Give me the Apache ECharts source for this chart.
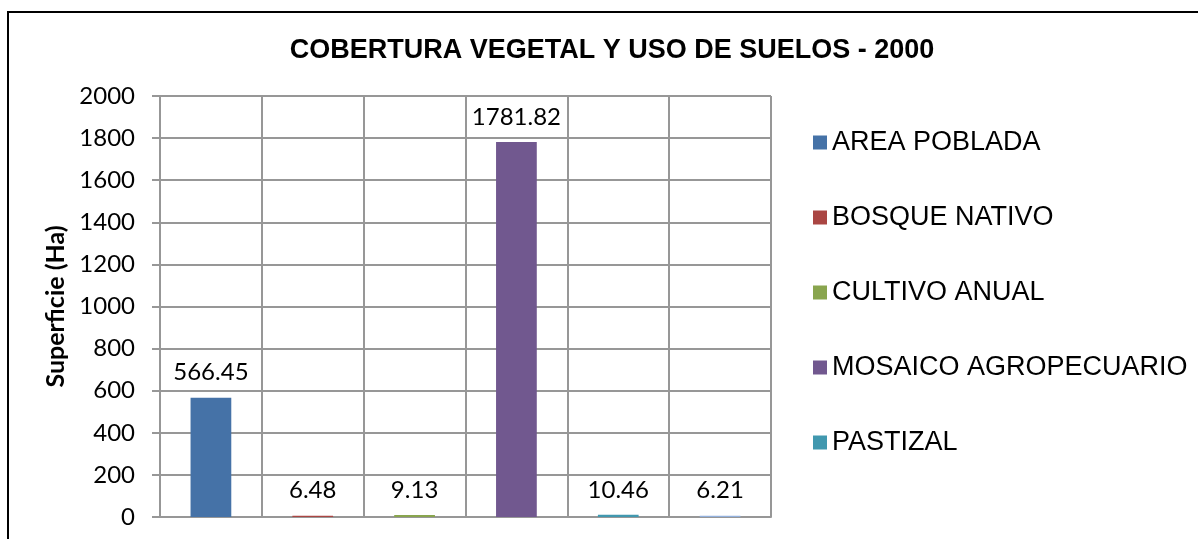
<!DOCTYPE html>
<html>
<head>
<meta charset="utf-8">
<script src="https://cdn.jsdelivr.net/npm/echarts@6/dist/echarts.min.js"></script>
<style>
  html, body { margin: 0; padding: 0; background: #fff; }
  #chart { width: 1198px; height: 539px; }
</style>
</head>
<body>
<div id="chart"></div>
<script>
// one bar per land-cover class; the last class has no legend entry in the source
const categories = [
  "AREA POBLADA",
  "BOSQUE NATIVO",
  "CULTIVO ANUAL",
  "MOSAICO AGROPECUARIO",
  "PASTIZAL",
  "OTRO",
]
const values = [566.45, 6.48, 9.13, 1781.82, 10.46, 6.21]
const legendNames = categories.slice(0, 5)
const colors = ["#4572A7", "#AA4643", "#89A54E", "#71588F", "#4198AF", "#93B1DD"]
const yTicks = { min: 0, max: 2000, interval: 200 }

const chart = echarts.init(document.getElementById("chart"), null, { renderer: "canvas" })
const gridColor = "#979797"
const numFont = "Lato, 'Open Sans', sans-serif"

chart.setOption({
  animation: false,
  title: {
    text: "COBERTURA VEGETAL Y USO DE SUELOS - 2000",
    left: 607,
    textAlign: "center",
    top: 32,
    textStyle: {
      fontFamily: "'Liberation Sans', Arial, sans-serif",
      fontWeight: "bold",
      fontSize: 27,
      color: "#000",
    },
  },
  graphic: [
    {
      type: "rect",
      shape: { x: 8, y: 12, width: 1300, height: 700 },
      style: { fill: "none", stroke: "#000", lineWidth: 2 },
      silent: true,
    },
  ],
  legend: {
    orient: "vertical",
    left: 813,
    top: 129,
    padding: 0,
    itemWidth: 14,
    itemHeight: 14,
    itemGap: 48,
    icon: "rect",
    data: legendNames,
    textStyle: {
      fontFamily: "'Liberation Sans', Arial, sans-serif",
      fontSize: 27,
      lineHeight: 27,
      color: "#000",
    },
  },
  grid: { left: 160, right: 427, top: 96, bottom: 22, containLabel: false },
  xAxis: {
    type: "category",
    data: categories,
    axisLine: { show: true, lineStyle: { color: gridColor, width: 2 } },
    axisTick: { show: false, interval: 0 },
    axisLabel: { show: false, interval: 0 },
    splitLine: { show: true, interval: 0, lineStyle: { color: gridColor, width: 2 } },
  },
  yAxis: {
    type: "value",
    min: yTicks.min,
    max: yTicks.max,
    interval: yTicks.interval,
    name: "Superficie (Ha)",
    nameLocation: "middle",
    nameGap: 85,
    nameTextStyle: {
      fontFamily: numFont,
      fontWeight: "bold",
      fontSize: 25,
      color: "#000",
    },
    axisLine: { show: true, lineStyle: { color: gridColor, width: 2 } },
    axisTick: { show: true, length: 8, lineStyle: { color: gridColor, width: 2 } },
    axisLabel: {
      fontFamily: numFont,
      fontSize: 24,
      color: "#000",
      margin: 25,
      formatter: (v) => String(v),
    },
    splitLine: { show: true, lineStyle: { color: gridColor, width: 2 } },
  },
  series: categories.map((name, i) => ({
    name,
    type: "bar",
    stack: "all",
    barWidth: "40%",
    itemStyle: { color: colors[i] },
    data: values.map((v, j) => (j === i ? v : "-")),
    label: {
      show: true,
      position: "top",
      distance: 13,
      fontFamily: numFont,
      fontSize: 24,
      color: "#000",
    },
  })),
})
</script>
</body>
</html>
